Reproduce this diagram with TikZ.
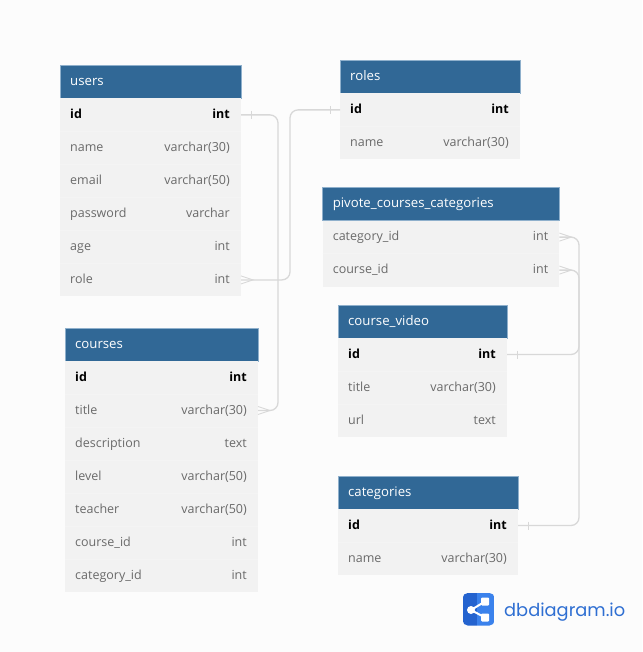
\documentclass[tikz,border=0pt]{standalone}
\usepackage{fontspec}
\setmainfont{Open Sans}
\newfontfamily\logofont{Poppins}
\definecolor{pagebg}{HTML}{FCFCFC}
\definecolor{headbg}{HTML}{316896}
\definecolor{headedge}{HTML}{8FB0CC}
\definecolor{rowbg}{HTML}{F2F2F2}
\definecolor{rowedge}{HTML}{F4F4F4}
\definecolor{rowtxt}{HTML}{6A6A6A}
\definecolor{linkc}{HTML}{D8D8D8}
\definecolor{logod}{HTML}{2463CF}
\definecolor{logol}{HTML}{3B82EC}
\definecolor{logot}{HTML}{2F6FD2}
\tikzset{
  headbox/.style={fill=headbg,draw=headedge,line width=0.3pt,inner sep=0pt,anchor=north west,minimum height=32.7pt,outer sep=0pt},
  rowbox/.style={fill=rowbg,draw=none,inner sep=0pt,anchor=north west,minimum height=33pt,outer sep=0pt},
  headtxt/.style={text=white,font=\fontsize{13.2}{15}\selectfont,anchor=base west,inner sep=0pt},
  keyl/.style={text=black,font=\fontsize{12.5}{14}\selectfont\bfseries,inner sep=0pt},
  rowl/.style={text=rowtxt,font=\fontsize{12.5}{14}\selectfont,inner sep=0pt},
  link/.style={draw=linkc,line width=1.3pt,rounded corners=8pt},
  mark line/.style={draw=linkc,line width=0.9pt},
}
% \dbtable{id}{x}{y}{width}{title}{keyed rows: 1 or 0}{row/label/type list}
\newcommand{\dbtable}[7]{%
  \node[headbox,minimum width={#4pt-0.3pt}] (#1-head) at (#2,#3) {};
  \node[headtxt] (#1-title) at ([shift={(10pt,-20pt)}]#1-head.north west) {#5};
  \foreach \rid/\rlab/\rtyp [count=\ri from 0] in {#7} {
    \pgfmathsetmacro{\ry}{#3+33+33*\ri}
    \node[rowbox,minimum width=#4pt] (#1-\rid) at (#2,\ry) {};
    \ifnum\ri>0 \draw[rowedge,line width=0.6pt] (#1-\rid.north west) -- (#1-\rid.north east); \fi
    \pgfmathtruncatemacro{\rkey}{(\ri==0 && #6==1) ? 1 : 0}
    \ifnum\rkey=1
      \node[keyl,anchor=base west] (#1-\rid-l) at ([shift={(10pt,-20pt)}]#1-\rid.north west) {\rlab};
      \node[keyl,anchor=base east] (#1-\rid-t) at ([shift={(-11pt,-20pt)}]#1-\rid.north east) {\rtyp};
    \else
      \node[rowl,anchor=base west] (#1-\rid-l) at ([shift={(10pt,-20pt)}]#1-\rid.north west) {\rlab};
      \node[rowl,anchor=base east] (#1-\rid-t) at ([shift={(-11pt,-20pt)}]#1-\rid.north east) {\rtyp};
    \fi
  }
}
\newcommand{\onemark}[2]{\draw[mark line] ([shift={(#2*10pt,4pt)}]#1) -- ([shift={(#2*10pt,-4pt)}]#1);}
\newcommand{\manymark}[2]{\draw[mark line] ([shift={(0pt,4pt)}]#1) -- ([shift={(#2*12pt,0pt)}]#1) -- ([shift={(0pt,-4pt)}]#1);}
\begin{document}
\begin{tikzpicture}[x=1pt,y=-1pt]
\useasboundingbox (0,0) rectangle (642,652);
\fill[pagebg] (0,0) rectangle (642,652);

\dbtable{users}{60}{65.4}{181}{users}{1}{id/id/int,name/name/varchar(30),email/email/varchar(50),password/password/varchar,age/age/int,role/role/int}
\dbtable{courses}{65}{328}{193}{courses}{1}{id/id/int,title/title/varchar(30),description/description/text,level/level/varchar(50),teacher/teacher/varchar(50),courseid/course\_id/int,categoryid/category\_id/int}
\dbtable{roles}{340}{60.4}{180}{roles}{1}{id/id/int,name/name/varchar(30)}
\dbtable{pivote}{322.6}{187.6}{236.8}{pivote\_courses\_categories}{0}{categoryid/category\_id/int,courseid/course\_id/int}
\dbtable{video}{338}{305}{169}{course\_video}{1}{id/id/int,title/title/varchar(30),url/url/text}
\dbtable{cats}{338}{476}{180}{categories}{1}{id/id/int,name/name/varchar(30)}

% connectors
\coordinate (c1) at (278,0);
\coordinate (c2) at (290,0);
\coordinate (c3) at (579,0);
\draw[link] (users-id.east) -- (users-id.east -| c1) -- (courses-title.east -| c1) -- (courses-title.east);
\draw[link] (roles-id.west) -- (roles-id.west -| c2) -- (users-role.east -| c2) -- (users-role.east);
\draw[link] (pivote-categoryid.east) -- (pivote-categoryid.east -| c3) -- (cats-id.east -| c3) -- (cats-id.east);
\draw[link] (pivote-courseid.east) -- (pivote-courseid.east -| c3) -- (video-id.east -| c3) -- (video-id.east);
\onemark{users-id.east}{1}
\onemark{roles-id.west}{-1}
\onemark{video-id.east}{1}
\onemark{cats-id.east}{1}
\manymark{users-role.east}{1}
\manymark{courses-title.east}{1}
\manymark{pivote-categoryid.east}{1}
\manymark{pivote-courseid.east}{1}

% logo
\begin{scope}
\clip[rounded corners=5pt] (462.7,593) rectangle (494.5,625.5);
\fill[logod] (462.7,593) rectangle (477,625.5);
\fill[logol] (477,593) rectangle (494.5,625.5);
\end{scope}
\draw[white,line width=2pt] (485,601.5) -- (471,610) -- (485,617.5);
\fill[white] (471,610) circle (4pt);
\fill[white,rounded corners=1pt] (481,597.5) rectangle (489,605.5);
\fill[white,rounded corners=1pt] (481,613.5) rectangle (489,621.5);
\node[anchor=base west,inner sep=0pt,text=logot,font=\logofont\fontsize{17.8}{20}\selectfont] (logotext) at (504,616) {dbdiagram.io};
\end{tikzpicture}
\end{document}
